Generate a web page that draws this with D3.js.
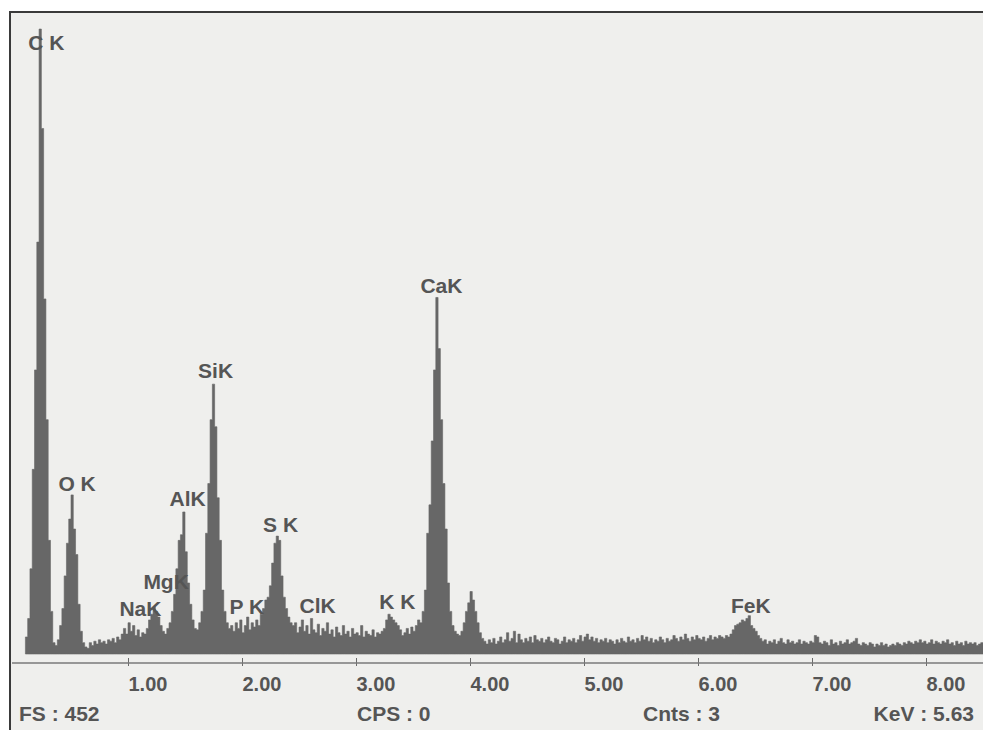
<!DOCTYPE html>
<html>
<head>
<meta charset="utf-8">
<script src="https://cdn.jsdelivr.net/npm/d3@7"></script>
<style>
  body { margin: 0; background: #fff; }
  svg { display: block; font-family: 'Liberation Sans', Arial, sans-serif; font-weight: bold; }
</style>
</head>
<body>
<script>
// spectrum channels: 0.02 keV wide, first channel starts at 0.10 keV
const startKeV = 0.10;
const channelKeV = 0.02;
const counts = [
    12, 25, 60, 130, 200, 290, 440, 370, 250, 165, 80, 30, 8, 6, 10, 20, 32, 55, 78, 95,
    112, 88, 70, 35, 16, 8, 5, 4, 8, 6, 9, 7, 10, 8, 9, 7, 10, 9, 11, 8,
    12, 10, 14, 18, 14, 22, 16, 20, 13, 17, 12, 15, 14, 18, 24, 28, 33, 30, 26, 20,
    16, 14, 18, 22, 30, 42, 60, 80, 84, 100, 72, 50, 35, 24, 18, 17, 22, 30, 45, 85,
    120, 165, 190, 160, 110, 80, 45, 30, 22, 18, 20, 16, 22, 18, 24, 15, 20, 26, 17, 22,
    19, 24, 20, 28, 32, 38, 40, 48, 64, 78, 83, 80, 55, 40, 32, 26, 22, 20, 22, 15,
    19, 24, 16, 20, 14, 25, 17, 15, 21, 13, 18, 16, 22, 14, 17, 12, 19, 15, 13, 20,
    14, 16, 12, 18, 14, 15, 13, 20, 12, 16, 14, 13, 17, 12, 15, 14, 16, 18, 24, 28,
    26, 24, 22, 20, 17, 13, 15, 18, 14, 19, 16, 20, 24, 22, 30, 45, 85, 105, 150, 200,
    251, 215, 165, 120, 88, 50, 30, 20, 16, 14, 13, 16, 22, 30, 36, 44, 38, 30, 22, 15,
    11, 9, 7, 10, 8, 11, 7, 9, 12, 8, 10, 15, 9, 11, 16, 8, 14, 10, 8, 11,
    9, 12, 8, 13, 10, 9, 11, 8, 10, 12, 9, 8, 11, 10, 7, 9, 12, 8, 10, 9,
    11, 8, 10, 13, 9, 12, 14, 10, 12, 9, 11, 8, 10, 9, 11, 8, 10, 9, 7, 10,
    8, 11, 9, 8, 12, 9, 10, 8, 11, 9, 13, 10, 12, 9, 11, 8, 10, 9, 12, 10,
    8, 11, 9, 10, 13, 11, 9, 12, 10, 14, 11, 9, 12, 10, 13, 11, 10, 12, 9, 11,
    13, 10, 12, 11, 13, 12, 11, 13, 12, 14, 17, 20, 21, 22, 24, 23, 25, 27, 20, 18,
    16, 13, 11, 9, 10, 7, 9, 8, 10, 7, 9, 11, 8, 7, 10, 8, 9, 7, 8, 10,
    7, 9, 8, 7, 9, 8, 13, 12, 8, 7, 9, 8, 6, 10, 7, 8, 6, 9, 7, 8,
    10, 7, 8, 9, 11, 7, 6, 8, 7, 6, 8, 7, 5, 7, 6, 8, 6, 7, 5, 6,
    7, 6, 8, 7, 6, 8, 7, 9, 8, 7, 9, 8, 10, 8, 9, 7, 8, 10, 7, 9,
    8, 7, 9, 8, 10, 7, 8, 6, 9, 7, 8, 6, 9, 7, 8, 7, 8, 6, 7, 8
];

// peak labels: element line, anchor in keV / counts
const peakNames = ['C K', 'O K', 'NaK', 'MgK', 'AlK', 'SiK', 'P K', 'S K', 'ClK', 'K K', 'CaK', 'FeK'];
const peakLabelKeV = [0.125, 0.39, 0.925, 1.135, 1.365, 1.615, 1.89, 2.185, 2.505, 3.205, 3.565, 6.29];
const peakLabelCounts = [425, 115, 27, 46, 104, 194, 28, 86, 29, 32, 254, 29];

const tickValues = [1, 2, 3, 4, 5, 6, 7, 8];
const footerNames = ['FS : 452', 'CPS : 0', 'Cnts : 3', 'KeV : 5.63'];

const svgValues = {
    width: 983,
    height: 730,
    frame: { left: 10, top: 12 },
    plot: { left: 14, right: 926, base: 654, top: 12 },
    axisY: 663,
    fullScale: 452
}

function makeSvg(){
    const svg = d3.select('body')
        .append('svg')
        .attr('width', svgValues.width)
        .attr('height', svgValues.height)

    svg // panel background
        .append('rect')
        .attr('x', svgValues.frame.left)
        .attr('y', svgValues.frame.top)
        .attr('width', svgValues.width - svgValues.frame.left)
        .attr('height', svgValues.height - svgValues.frame.top)
        .style('fill', '#efefed')

    svg.append('line') // top border
        .attr('x1', svgValues.frame.left - 1).attr('x2', svgValues.width)
        .attr('y1', svgValues.frame.top).attr('y2', svgValues.frame.top)
        .style('stroke', '#3a3a3a').style('stroke-width', 2)

    svg.append('line') // left border
        .attr('x1', svgValues.frame.left).attr('x2', svgValues.frame.left)
        .attr('y1', svgValues.frame.top).attr('y2', svgValues.height)
        .style('stroke', '#3a3a3a').style('stroke-width', 2)

    return svg
}

function makeScales(){
    const xScale = d3.scaleLinear()
        .domain([0, 8])
        .range([svgValues.plot.left, svgValues.plot.right])

    const yScale = d3.scaleLinear()
        .domain([0, svgValues.fullScale])
        .range([svgValues.plot.base, svgValues.plot.top])

    return [xScale, yScale]
}

function makeSpectrum(svg, xScale, yScale){
    // step outline: every channel starts at its energy, the last one is closed at its right edge
    const steps = counts.map((c, i) => [startKeV + i * channelKeV, c]);
    steps.push([startKeV + counts.length * channelKeV, counts[counts.length - 1]]);

    const area = d3.area()
        .x(d => xScale(d[0]))
        .y0(yScale(0))
        .y1(d => yScale(d[1]))
        .curve(d3.curveStepAfter)

    svg.append('path')
        .datum(steps)
        .attr('d', area)
        .style('fill', '#676767')
        .style('stroke', '#676767')
        .style('stroke-width', 0.6)
}

function makeAxis(svg, xScale){
    const xAxis = d3.axisBottom(xScale)
        .tickValues(tickValues)
        .tickFormat(d3.format('.2f'))
        .tickSizeInner(8)
        .tickSizeOuter(0)

    const g = svg.append('g')
        .attr('transform', 'translate(0,' + svgValues.axisY + ')')
        .call(xAxis)

    g.select('.domain').remove()

    g.append('line') // axis line spans the whole panel
        .attr('x1', svgValues.frame.left + 2)
        .attr('x2', svgValues.width)
        .style('stroke', '#7a7a7a')
        .style('stroke-width', 1.3)

    g.selectAll('.tick line')
        .attr('y1', -5)
        .attr('y2', 3)
        .style('stroke', '#6a6a6a')

    g.selectAll('.tick text')
        .attr('y', 28)
        .attr('dy', 0)
        .attr('text-anchor', 'start')
        .style('font-size', '20px')
        .style('font-weight', 'bold')
        .style('font-family', "'Liberation Sans', Arial, sans-serif")
        .style('fill', '#555')
}

function makeLabels(svg, xScale, yScale){
    svg.append('g')
        .selectAll('text')
        .data(peakNames)
        .enter()
        .append('text')
        .attr('x', (d, i) => xScale(peakLabelKeV[i]))
        .attr('y', (d, i) => yScale(peakLabelCounts[i]))
        .text(d => d)
        .style('font-size', '21px')
        .style('fill', '#555')

    const footerX = [19, 357, 643, 974];
    svg.append('g')
        .selectAll('text')
        .data(footerNames)
        .enter()
        .append('text')
        .attr('x', (d, i) => footerX[i])
        .attr('y', 721)
        .attr('text-anchor', (d, i) => i === 3 ? 'end' : 'start')
        .text(d => d)
        .style('font-size', '21px')
        .style('fill', '#555')
}

const svg = makeSvg();
const [xScale, yScale] = makeScales();
makeSpectrum(svg, xScale, yScale);
makeAxis(svg, xScale);
makeLabels(svg, xScale, yScale);
</script>
</body>
</html>
